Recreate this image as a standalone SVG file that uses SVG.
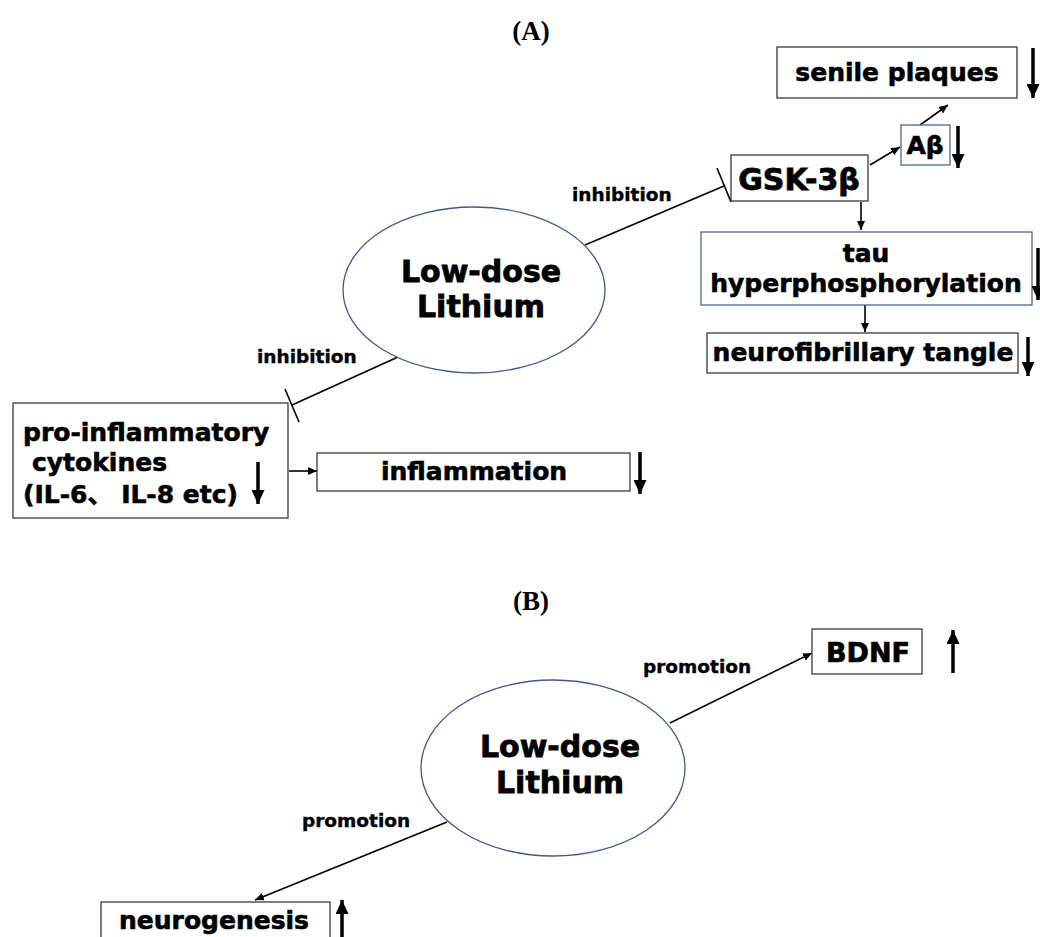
<svg xmlns="http://www.w3.org/2000/svg" width="1040" height="937" viewBox="0 0 1040 937">
<style>
.t{font-family:"DejaVu Sans","Liberation Sans","Noto Sans CJK SC",sans-serif;font-weight:bold;fill:#000;stroke:#000;stroke-width:0.6;}
.lbl{font-size:18.5px;stroke-width:0.4;}
.bx{font-size:25px;}
.big{font-size:30px;stroke-width:0.8;}
.ttl{font-family:"Liberation Serif",serif;font-weight:bold;font-size:27px;fill:#000;}
.box{fill:#fff;stroke:#3a3a3a;stroke-width:1.3;}
.bbox{fill:#fff;stroke:#4a6894;stroke-width:1.3;}
.ell{fill:#fff;stroke:#3e5a8a;stroke-width:1.3;}
.conn{stroke:#000;stroke-width:1.6;fill:none;}
.ind{stroke:#000;stroke-width:3.5;fill:none;marker-end:url(#big);}
</style>
<defs>
<marker id="arr" markerUnits="userSpaceOnUse" markerWidth="9" markerHeight="8" viewBox="0 0 9 8" refX="9" refY="4" orient="auto"><path d="M0,0 L9,4 L0,8 z" fill="#000"/></marker>
<marker id="big" markerUnits="userSpaceOnUse" markerWidth="14" markerHeight="13" viewBox="0 0 14 13" refX="14" refY="6.5" orient="auto"><path d="M0,0 L14,6.5 L0,13 z" fill="#000"/></marker>
</defs>
<rect width="1040" height="937" fill="#fff"/>

<text class="ttl" x="531" y="40" text-anchor="middle">(A)</text>
<text class="ttl" x="531" y="610" text-anchor="middle">(B)</text>

<g id="connectors">
<line class="conn" x1="585" y1="245" x2="724" y2="186"/>
<line class="conn" x1="717" y1="168" x2="731" y2="202"/>
<line class="conn" x1="398" y1="357" x2="292" y2="405"/>
<line class="conn" x1="285" y1="389" x2="299" y2="422"/>
<line class="conn" x1="870" y1="165" x2="900" y2="147" marker-end="url(#arr)"/>
<line class="conn" x1="920" y1="125" x2="948" y2="105" marker-end="url(#arr)"/>
<line class="conn" x1="861" y1="202" x2="861" y2="230" marker-end="url(#arr)"/>
<line class="conn" x1="865" y1="305" x2="865" y2="332" marker-end="url(#arr)"/>
<line class="conn" x1="289" y1="471" x2="317" y2="471" marker-end="url(#arr)"/>
<line class="conn" x1="670" y1="723" x2="812" y2="653" marker-end="url(#arr)"/>
<line class="conn" x1="447" y1="822" x2="255" y2="900" marker-end="url(#arr)"/>
<text class="t lbl" x="572" y="201">inhibition</text>
<text class="t lbl" x="257" y="363">inhibition</text>
<text class="t lbl" x="643" y="673">promotion</text>
<text class="t lbl" x="302" y="827">promotion</text>
</g>

<g id="lithiumA">
<ellipse class="ell" cx="474" cy="290" rx="131" ry="83"/>
<text class="t big" x="481" y="282" text-anchor="middle">Low-dose</text>
<text class="t big" x="481" y="317" text-anchor="middle">Lithium</text>
</g>

<g id="gsk3b">
<rect class="box" x="731" y="155" width="137" height="46"/>
<text class="t big" x="799" y="190" text-anchor="middle">GSK-3β</text>
</g>

<g id="abeta">
<rect class="bbox" x="901" y="125" width="49" height="40"/>
<text class="t bx" x="925" y="154" text-anchor="middle">Aβ</text>
<line class="ind" x1="958" y1="126" x2="958" y2="168"/>
</g>

<g id="senile">
<rect class="box" x="777" y="47" width="240" height="51"/>
<text class="t bx" x="897" y="81" text-anchor="middle">senile plaques</text>
<line class="ind" x1="1033" y1="48" x2="1033" y2="98"/>
</g>

<g id="tau">
<rect class="bbox" x="701" y="232" width="331" height="73"/>
<text class="t bx" x="866" y="262" text-anchor="middle">tau</text>
<text class="t bx" x="866" y="292" text-anchor="middle">hyperphosphorylation</text>
<line class="ind" x1="1038" y1="248" x2="1038" y2="300"/>
</g>

<g id="tangle">
<rect class="box" x="707" y="333" width="311" height="40"/>
<text class="t bx" x="863" y="361" text-anchor="middle">neurofibrillary tangle</text>
<line class="ind" x1="1028" y1="337" x2="1028" y2="376"/>
</g>

<g id="cytokines">
<rect class="box" x="13" y="403" width="275" height="115"/>
<text class="t bx" x="23" y="441">pro-inflammatory</text>
<text class="t bx" x="32" y="471">cytokines</text>
<text class="t bx" x="23" y="503" xml:space="preserve">(IL-6、 IL-8 etc)</text>
<line class="ind" x1="258" y1="462" x2="258" y2="504"/>
</g>

<g id="inflammation">
<rect class="box" x="317" y="453" width="313" height="38"/>
<text class="t bx" x="474" y="480" text-anchor="middle">inflammation</text>
<line class="ind" x1="640" y1="452" x2="640" y2="494"/>
</g>

<g id="lithiumB">
<ellipse class="ell" cx="553" cy="768" rx="132" ry="88"/>
<text class="t big" x="560" y="757" text-anchor="middle">Low-dose</text>
<text class="t big" x="560" y="793" text-anchor="middle">Lithium</text>
</g>

<g id="bdnf">
<rect class="box" x="812" y="629" width="110" height="45"/>
<text class="t" style="font-size:27px;stroke-width:0.7" x="868" y="662" text-anchor="middle">BDNF</text>
<line class="ind" x1="953" y1="673" x2="953" y2="630"/>
</g>

<g id="neurogenesis">
<rect class="box" x="101" y="902" width="229" height="50"/>
<text class="t bx" x="214" y="929" text-anchor="middle">neurogenesis</text>
<line class="ind" x1="342" y1="940" x2="342" y2="900"/>
</g>
</svg>
